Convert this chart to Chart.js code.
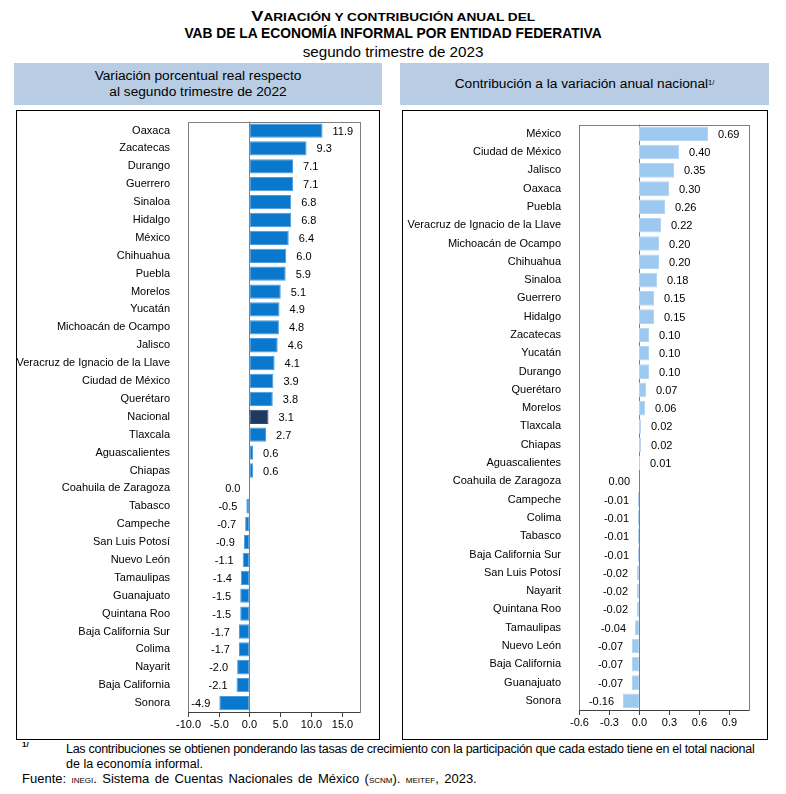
<!DOCTYPE html>
<html><head><meta charset="utf-8">
<script src="https://cdn.jsdelivr.net/npm/chart.js@4"></script>
<style>
html,body{margin:0;padding:0;background:#fff;}
body{width:786px;height:794px;position:relative;overflow:hidden;font-family:"Liberation Sans",Arial,sans-serif;color:#000;}
.t{position:absolute;left:0;width:786px;text-align:center;white-space:nowrap;}
.hdr{position:absolute;background:#b8cce4;top:63px;height:42px;display:flex;align-items:center;justify-content:center;text-align:center;font-size:13.7px;line-height:16px;}
.box{position:absolute;top:110px;height:628px;border:1px solid #000;}
canvas{position:absolute;}
.fn{position:absolute;font-size:12.5px;white-space:nowrap;}
.sc{font-size:8px;}
</style></head><body>
<div class="t" style="top:7px;"><span style="display:inline-block;font-weight:bold;transform:scaleX(1.3);"><span style="font-size:14px">V</span><span style="font-size:10.5px">ARIACIÓN Y CONTRIBUCIÓN ANUAL DEL</span></span></div>
<div class="t" style="top:26px;font-weight:bold;font-size:13.8px;">VAB DE LA ECONOMÍA INFORMAL POR ENTIDAD FEDERATIVA</div>
<div class="t" style="top:43px;font-size:15.2px;">segundo trimestre de 2023</div>
<div class="hdr" style="left:14px;width:368px;">Variación porcentual real respecto<br>al segundo trimestre de 2022</div>
<div class="hdr" style="left:400px;width:369px;">Contribución a la variación anual nacional<sup style="font-size:7.5px;line-height:0;position:relative;top:-1px;">1/</sup></div>
<div class="box" style="left:16px;width:362px;"></div>
<div class="box" style="left:402px;width:364px;"></div>
<canvas id="c1" width="362" height="633" style="left:17px;top:105px;width:362px;height:633px;"></canvas>
<canvas id="c2" width="364" height="630" style="left:403px;top:108px;width:364px;height:630px;"></canvas>
<div class="fn" style="left:22px;top:740px;font-size:8px;font-weight:bold;">1/</div>
<div class="fn" style="left:66px;top:742px;letter-spacing:-0.28px;">Las contribuciones se obtienen ponderando las tasas de crecimiento con la participación que cada estado tiene en el total nacional</div>
<div class="fn" style="left:66px;top:757px;">de la economía informal.</div>
<div class="fn" style="left:22px;top:771px;font-size:13px;word-spacing:1.8px;">Fuente: <span class="sc">INEGI</span>. Sistema de Cuentas Nacionales de México (<span class="sc">SCNM</span>). <span class="sc">MEITEF</span>, 2023.</div>
<script>
const variacionEstados = ["Oaxaca","Zacatecas","Durango","Guerrero","Sinaloa","Hidalgo","México","Chihuahua","Puebla","Morelos","Yucatán","Michoacán de Ocampo","Jalisco","Veracruz de Ignacio de la Llave","Ciudad de México","Querétaro","Nacional","Tlaxcala","Aguascalientes","Chiapas","Coahuila de Zaragoza","Tabasco","Campeche","San Luis Potosí","Nuevo León","Tamaulipas","Guanajuato","Quintana Roo","Baja California Sur","Colima","Nayarit","Baja California","Sonora"];
const variacionValores = [11.9,9.3,7.1,7.1,6.8,6.8,6.4,6.0,5.9,5.1,4.9,4.8,4.6,4.1,3.9,3.8,3.1,2.7,0.6,0.6,0.0,-0.5,-0.7,-0.9,-1.1,-1.4,-1.5,-1.5,-1.7,-1.7,-2.0,-2.1,-4.9];
const contribEstados = ["México","Ciudad de México","Jalisco","Oaxaca","Puebla","Veracruz de Ignacio de la Llave","Michoacán de Ocampo","Chihuahua","Sinaloa","Guerrero","Hidalgo","Zacatecas","Yucatán","Durango","Querétaro","Morelos","Tlaxcala","Chiapas","Aguascalientes","Coahuila de Zaragoza","Campeche","Colima","Tabasco","Baja California Sur","San Luis Potosí","Nayarit","Quintana Roo","Tamaulipas","Nuevo León","Baja California","Guanajuato","Sonora"];
const contribValores = [0.69,0.40,0.35,0.30,0.26,0.22,0.20,0.20,0.18,0.15,0.15,0.10,0.10,0.10,0.07,0.06,0.02,0.02,0.01,0.00,-0.01,-0.01,-0.01,-0.01,-0.02,-0.02,-0.02,-0.04,-0.07,-0.07,-0.07,-0.16];
const variacionTicks = [-10,-5,0,5,10,15];
const contribTicks = [-0.6,-0.3,0,0.3,0.6,0.9];

const FONT = "'Liberation Sans', Arial, sans-serif";
const framePlugin = {
  id:'frame',
  beforeDatasetsDraw(chart){
    const {ctx, chartArea:a, scales:{x}} = chart;
    ctx.save();
    ctx.strokeStyle='#7f7f7f'; ctx.lineWidth=1;
    ctx.strokeRect(Math.round(a.left)+0.5, Math.round(a.top)+0.5, Math.round(a.right-a.left), Math.round(a.bottom-a.top));
    const z = Math.round(x.getPixelForValue(0))+0.5;
    ctx.beginPath(); ctx.moveTo(z,a.top); ctx.lineTo(z,a.bottom); ctx.stroke();
    ctx.strokeStyle='#404040';
    ctx.beginPath(); ctx.moveTo(a.left,Math.round(a.bottom)+0.5); ctx.lineTo(a.right,Math.round(a.bottom)+0.5); ctx.stroke();
    ctx.font = '11px '+FONT; ctx.fillStyle='#000'; ctx.textAlign='center'; ctx.textBaseline='middle';
    x.ticks.forEach(t=>{
      const px=Math.round(x.getPixelForValue(t.value))+0.5;
      ctx.beginPath(); ctx.moveTo(px,a.bottom); ctx.lineTo(px,a.bottom+5); ctx.stroke();
      ctx.fillText(Number(t.value).toFixed(1), px, a.bottom+13);
    });
    ctx.restore();
  }
};
const labelPlugin = {
  id:'vlabels',
  afterDatasetsDraw(chart, args, opts){
    const {ctx} = chart;
    const meta = chart.getDatasetMeta(0);
    const data = chart.data.datasets[0].data;
    ctx.save();
    ctx.font = '11px '+FONT; ctx.fillStyle='#000'; ctx.textBaseline='middle';
    meta.data.forEach((el,i)=>{
      const v = data[i]; const txt = v.toFixed(opts.dec);
      if (v>0){ ctx.textAlign='left'; ctx.fillText(txt, el.x+10, el.y+1); }
      else { ctx.textAlign='right'; ctx.fillText(txt, el.x-9, el.y+1); }
    });
    ctx.restore();
  }
};

function makeChart(id, labels, values, colors, borderColors, min, max, dec, yWidth, padRight, xHeight, ticksList){
  return new Chart(document.getElementById(id), {
    type:'bar',
    data:{labels, datasets:[{data:values, backgroundColor:colors, borderColor:borderColors, borderWidth:1, borderSkipped:false, barPercentage:0.8, categoryPercentage:1}]},
    options:{
      indexAxis:'y', responsive:false, animation:false, maintainAspectRatio:false,
      layout:{padding:{top:0,right:padRight,left:0,bottom:0}},
      plugins:{legend:{display:false}, tooltip:{enabled:false}, vlabels:{dec}},
      scales:{
        x:{min, max, afterBuildTicks(s){ s.ticks = ticksList.map(v=>({value:v})); },
           grid:{display:false}, border:{display:false},
           ticks:{display:false},
           afterFit(s){ s.height = xHeight; }},
        y:{grid:{display:false}, border:{display:false},
           ticks:{font:{family:FONT,size:11}, color:'#000', padding:10, autoSkip:false},
           afterFit(s){ s.width = yWidth; }}
      }
    },
    plugins:[framePlugin,labelPlugin]
  });
}
const c1colors = variacionEstados.map(n=> n==='Nacional' ? '#1f3a5f' : '#0a78cc');
const c1borders = variacionEstados.map(n=> n==='Nacional' ? '#2c4a72' : '#4a9be0');
makeChart('c1', variacionEstados, variacionValores, c1colors, c1borders, -10, 18, 1, 171, 19, 26, variacionTicks);
makeChart('c2', contribEstados, contribValores, '#9dc8f0', '#b4d6f5', -0.6, 1.1, 2, 176, 18, 28, contribTicks);
</script>
</body></html>
